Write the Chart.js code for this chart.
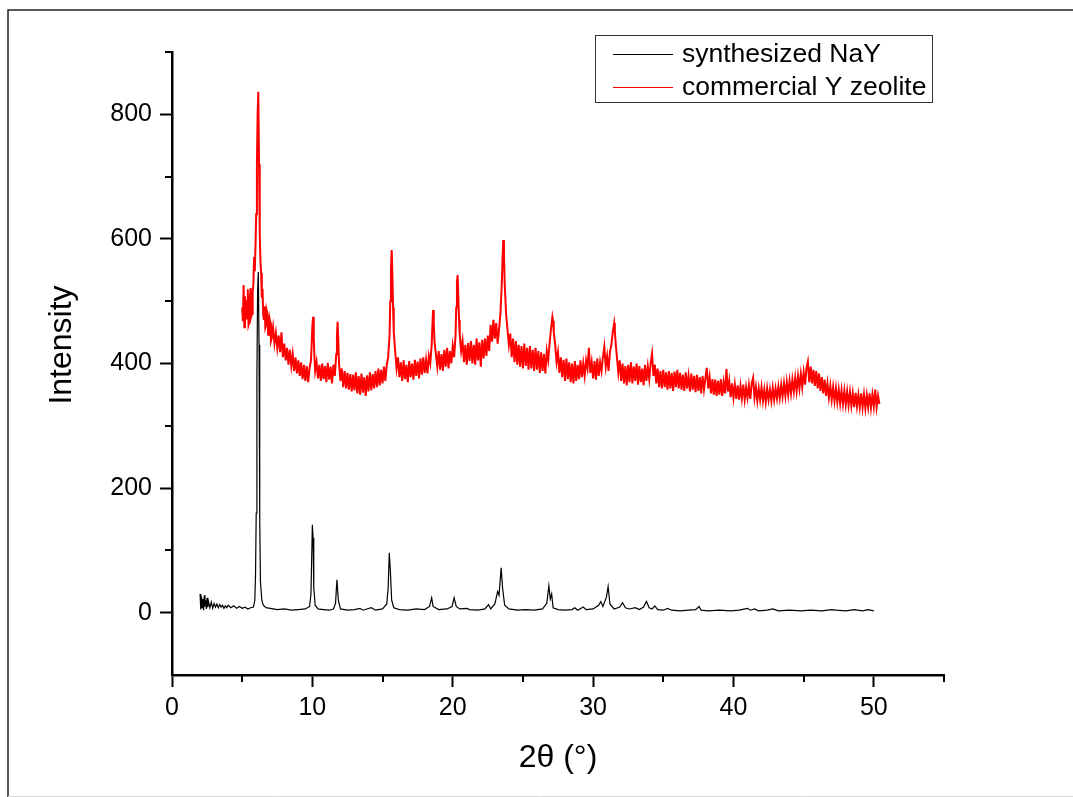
<!DOCTYPE html>
<html>
<head>
<meta charset="utf-8">
<script src="https://cdn.jsdelivr.net/npm/chart.js@4.4.1/dist/chart.umd.min.js"></script>
<style>
  html, body { margin: 0; padding: 0; background: #fff; }
  #wrap { width: 1073px; height: 797px; position: relative; }
</style>
</head>
<body>
<div id="wrap"><canvas id="xrd" width="1073" height="797"></canvas></div>
<script>
'use strict';

/* ── Data ────────────────────────────────────────────────── */
const seriesLabels = ['synthesized NaY', 'commercial Y zeolite'];
const seriesColors = ['#000000', '#ff0000'];

// [2θ, intensity]
const nayPattern = [
  [2.0,30],[2.05,5],[2.1,26],[2.15,8],[2.2,22],[2.25,4],[2.3,28],[2.35,10],[2.4,20],[2.45,6],
  [2.5,24],[2.55,9],[2.6,18],[2.7,8],[2.8,17],[2.9,7],[3.0,15],[3.1,9],[3.2,14],[3.3,8],
  [3.4,13],[3.5,9],[3.6,12],[3.7,7],[3.8,11],[3.9,8],[4.0,12],[4.2,8],[4.4,11],[4.6,7],
  [4.8,10],[5.0,7],[5.2,9],[5.4,6],[5.6,8],[5.8,9],[5.9,20],[5.95,60],[6.0,160],[6.05,380],
  [6.1,520],[6.15,547],[6.2,430],[6.25,150],[6.3,50],[6.4,20],[6.5,12],[6.7,8],[7.0,7],[7.5,5],
  [8.0,6],[8.5,4],[9.0,5],[9.5,6],[9.8,10],[9.9,30],[10.0,141],[10.05,120],[10.1,40],[10.2,12],
  [10.4,6],[10.8,5],[11.2,4],[11.5,6],[11.65,15],[11.75,53],[11.85,20],[12.0,6],[12.5,4],[13.0,5],
  [13.4,7],[13.6,4],[14.2,8],[14.5,4],[15.0,6],[15.3,14],[15.4,40],[15.48,96],[15.55,70],[15.65,20],
  [15.8,8],[16.2,5],[16.8,4],[17.4,6],[18.0,5],[18.35,10],[18.5,24],[18.6,10],[19.0,5],[19.6,6],
  [19.95,10],[20.1,24],[20.25,10],[20.5,6],[21.0,7],[21.2,5],[21.8,4],[22.3,6],[22.55,13],[22.7,6],
  [23.0,14],[23.2,34],[23.3,28],[23.45,72],[23.55,40],[23.7,12],[24.0,6],[24.6,4],[25.2,5],[25.8,4],
  [26.4,6],[26.7,15],[26.85,43],[26.95,22],[27.05,30],[27.15,8],[27.5,5],[28.0,4],[28.5,5],[28.7,8],
  [28.9,4],[29.3,9],[29.5,5],[30.0,6],[30.4,12],[30.55,18],[30.7,10],[30.95,25],[31.07,42],[31.2,14],
  [31.5,6],[31.9,9],[32.1,16],[32.3,8],[32.6,6],[33.0,8],[33.3,5],[33.6,9],[33.8,18],[34.0,8],
  [34.2,6],[34.4,11],[34.6,5],[35.0,4],[35.3,7],[35.6,4],[36.2,3],[36.8,4],[37.3,5],[37.55,10],
  [37.7,4],[38.2,3],[39.0,4],[39.8,3],[40.4,4],[41.0,7],[41.2,4],[41.5,6],[41.8,3],[42.4,4],
  [42.8,6],[43.2,3],[44.0,4],[44.8,3],[45.5,4],[46.3,3],[47.0,5],[47.3,4],[48.0,3],[48.6,5],
  [49.2,3],[49.6,5],[50.0,3]
];

const commercialPattern = [
  [5.0,490],[5.05,468],[5.1,526],[5.15,458],[5.2,508],[5.25,480],[5.3,471],[5.35,500],[5.4,519],[5.45,462],
  [5.5,466],[5.55,505],[5.6,521],[5.65,476],[5.7,480],[5.75,515],[5.8,528],[5.85,571],
  [5.9,548],[5.95,590],[6.0,640],[6.05,720],[6.1,800],[6.15,836],[6.2,720],[6.25,610],[6.3,565],[6.35,545],
  [6.4,505],[6.45,520],[6.5,478],[6.55,470],[6.6,492],[6.65,458],[6.7,462],[6.75,485],[6.8,480],[6.85,446],[6.9,450],[6.95,472],[7.0,466],[7.05,436],[7.1,440],[7.2,458],
  [7.3,432],[7.4,449],[7.5,425],[7.6,445],[7.7,418],[7.8,450],[7.9,410],[8.0,432],[8.1,405],[8.2,425],
  [8.3,398],[8.4,422],[8.5,396],[8.6,415],[8.7,388],[8.8,410],[8.9,384],[9.0,405],[9.1,380],[9.2,402],
  [9.3,375],[9.4,398],[9.5,372],[9.6,396],[9.7,370],[9.8,392],[9.9,405],[9.95,430],[10.0,460],[10.05,475],
  [10.1,440],[10.15,410],[10.2,388],[10.3,402],[10.4,376],[10.5,398],[10.6,372],[10.7,400],[10.8,375],[10.9,396],
  [11.0,370],[11.1,401],[11.2,374],[11.3,395],[11.4,368],[11.5,398],[11.6,380],[11.7,415],[11.75,445],[11.8,467],
  [11.85,435],[11.9,400],[12.0,372],[12.1,392],[12.2,362],[12.3,388],[12.4,360],[12.5,385],[12.6,358],[12.7,383],
  [12.8,355],[12.9,382],[13.0,357],[13.1,386],[13.2,352],[13.3,380],[13.4,350],[13.5,384],[13.6,353],[13.7,378],
  [13.8,348],[13.9,381],[14.0,355],[14.1,386],[14.2,357],[14.3,383],[14.4,360],[14.5,388],[14.6,362],[14.7,392],
  [14.8,365],[14.9,390],[15.0,368],[15.1,395],[15.2,372],[15.3,398],[15.4,410],[15.5,445],[15.55,500],[15.6,550],
  [15.65,582],[15.7,545],[15.75,490],[15.8,450],[15.9,420],[16.0,392],[16.1,410],[16.2,378],[16.3,402],[16.4,372],
  [16.5,405],[16.6,375],[16.7,398],[16.8,370],[16.9,404],[17.0,378],[17.1,400],[17.2,374],[17.3,406],[17.4,380],
  [17.5,403],[17.6,376],[17.7,408],[17.8,382],[17.9,410],[18.0,385],[18.1,406],[18.2,384],[18.3,412],[18.4,400],
  [18.5,430],[18.55,460],[18.6,486],[18.65,465],[18.7,435],[18.8,415],[18.9,395],[19.0,420],[19.1,390],[19.2,415],
  [19.3,388],[19.4,422],[19.5,395],[19.6,425],[19.7,392],[19.8,420],[19.9,400],[20.0,428],[20.1,410],[20.2,445],
  [20.25,490],[20.3,530],[20.35,542],[20.4,505],[20.45,470],[20.5,445],[20.6,420],[20.7,436],[20.8,402],[20.9,430],
  [21.0,398],[21.1,433],[21.2,404],[21.3,436],[21.4,400],[21.5,430],[21.6,398],[21.7,440],[21.8,405],[21.9,434],
  [22.0,395],[22.1,438],[22.2,408],[22.3,440],[22.4,412],[22.5,445],[22.6,420],[22.7,462],[22.8,435],[22.9,470],
  [23.0,440],[23.1,465],[23.2,432],[23.3,455],[23.4,480],[23.5,530],[23.55,570],[23.6,598],[23.65,575],[23.7,530],
  [23.8,480],[23.9,455],[24.0,430],[24.1,448],[24.2,410],[24.3,440],[24.4,402],[24.5,436],[24.6,398],[24.7,430],
  [24.8,395],[24.9,428],[25.0,392],[25.1,432],[25.2,396],[25.3,425],[25.4,390],[25.5,428],[25.6,392],[25.7,422],
  [25.8,388],[25.9,425],[26.0,390],[26.1,420],[26.2,385],[26.3,418],[26.4,388],[26.5,415],[26.6,384],[26.7,420],
  [26.8,405],[26.9,432],[27.0,455],[27.1,475],[27.15,468],[27.2,450],[27.3,430],[27.4,402],[27.5,418],[27.6,385],
  [27.7,410],[27.8,378],[27.9,406],[28.0,372],[28.1,408],[28.2,375],[28.3,402],[28.4,370],[28.5,400],[28.6,368],
  [28.7,404],[28.8,372],[28.9,398],[29.0,375],[29.1,405],[29.2,378],[29.3,400],[29.4,380],[29.5,405],[29.6,392],
  [29.7,425],[29.8,385],[29.9,402],[30.0,376],[30.1,404],[30.2,374],[30.3,408],[30.4,380],[30.5,402],[30.6,388],
  [30.7,410],[30.8,427],[30.9,395],[31.0,412],[31.1,388],[31.2,418],[31.3,430],[31.4,450],[31.5,465],[31.55,452],
  [31.6,435],[31.7,410],[31.8,385],[31.9,405],[32.0,372],[32.1,400],[32.2,368],[32.3,396],[32.4,365],[32.5,398],
  [32.6,370],[32.7,402],[32.8,368],[32.9,395],[33.0,372],[33.1,400],[33.2,366],[33.3,396],[33.4,370],[33.5,392],
  [33.6,365],[33.7,398],[33.8,372],[33.9,395],[34.0,375],[34.1,400],[34.2,416],[34.3,380],[34.4,398],[34.5,368],
  [34.6,392],[34.7,362],[34.8,388],[34.9,360],[35.0,390],[35.1,362],[35.2,386],[35.3,358],[35.4,388],[35.5,360],
  [35.6,385],[35.7,356],[35.8,387],[35.9,362],[36.0,390],[36.1,360],[36.2,385],[36.3,358],[36.4,382],[36.5,356],
  [36.6,386],[36.7,360],[36.8,380],[36.9,355],[37.0,384],[37.1,358],[37.2,380],[37.3,354],[37.4,382],[37.5,356],
  [37.6,378],[37.7,352],[37.8,380],[37.9,358],[38.0,376],[38.1,393],[38.2,360],[38.3,378],[38.4,352],[38.5,375],
  [38.6,350],[38.7,374],[38.8,348],[38.9,372],[39.0,350],[39.1,375],[39.2,348],[39.3,370],[39.4,352],[39.5,391],
  [39.6,355],[39.7,372],[39.8,346],[39.9,368],[40.0,345],[40.1,366],[40.2,343],[40.3,365],[40.4,342],[40.5,364],
  [40.6,344],[40.7,366],[40.8,342],[40.9,362],[41.0,345],[41.1,365],[41.2,343],[41.3,368],[41.4,377],[41.5,345],
  [41.6,362],[41.7,340],[41.8,360],[41.9,342],[42.0,362],[42.1,340],[42.2,358],[42.3,338],[42.4,360],[42.5,342],
  [42.6,358],[42.7,340],[42.8,361],[42.9,342],[43.0,360],[43.1,344],[43.2,363],[43.3,345],[43.4,366],[43.5,347],
  [43.6,368],[43.7,348],[43.8,370],[43.9,350],[44.0,372],[44.1,352],[44.2,374],[44.3,355],[44.4,377],[44.5,356],
  [44.6,380],[44.7,360],[44.8,383],[44.9,362],[45.0,386],[45.1,366],[45.2,392],[45.3,403],[45.4,370],[45.5,395],
  [45.6,368],[45.7,390],[45.8,364],[45.9,388],[46.0,360],[46.1,384],[46.2,356],[46.3,378],[46.4,352],[46.5,374],
  [46.6,348],[46.7,368],[46.8,345],[46.9,364],[47.0,342],[47.1,362],[47.2,340],[47.3,360],[47.4,338],[47.5,358],
  [47.6,336],[47.7,357],[47.8,335],[47.9,356],[48.0,334],[48.1,355],[48.2,333],[48.3,354],[48.4,332],[48.5,352],
  [48.6,330],[48.7,353],[48.8,331],[48.9,350],[49.0,330],[49.1,352],[49.2,329],[49.3,350],[49.4,328],[49.5,349],
  [49.6,330],[49.7,352],[49.8,329],[49.9,350],[50.0,331],[50.1,358],[50.2,330],[50.3,348],[50.4,335]
];

const xRange = [0, 55];
const yRange = [-100, 900];
const xLabelled = [0, 10, 20, 30, 40, 50];
const yLabelled = [0, 200, 400, 600, 800];

const FONT = '"Liberation Sans", Arial, Helvetica, sans-serif';
const toXY = arr => arr.map(p => ({ x: p[0], y: p[1] }));

/* ── Plugins: minor ticks, axis titles, legend box, frame ── */
const extras = {
  id: 'extras',
  afterDraw(chart) {
    const { ctx, chartArea: ca, scales } = chart;
    ctx.save();
    ctx.strokeStyle = '#000';
    ctx.lineWidth = 2;

    // minor ticks (unlabelled tick values)
    scales.x.ticks.forEach(t => {
      if (xLabelled.includes(t.value)) return;
      const px = Math.round(scales.x.getPixelForValue(t.value));
      ctx.beginPath();
      ctx.moveTo(px, ca.bottom);
      ctx.lineTo(px, ca.bottom + 7);
      ctx.stroke();
    });
    scales.y.ticks.forEach(t => {
      if (yLabelled.includes(t.value) || t.value === yRange[0]) return;
      const py = Math.round(scales.y.getPixelForValue(t.value));
      ctx.beginPath();
      ctx.moveTo(ca.left, py);
      ctx.lineTo(ca.left - 7, py);
      ctx.stroke();
    });

    // axis titles
    ctx.fillStyle = '#000';
    ctx.font = `32px ${FONT}`;
    ctx.textAlign = 'center';
    ctx.textBaseline = 'middle';
    ctx.fillText('2θ (°)', (ca.left + ca.right) / 2, 758);
    ctx.save();
    ctx.translate(62, 345);
    ctx.rotate(-Math.PI / 2);
    ctx.fillText('Intensity', 0, 0);
    ctx.restore();

    // legend
    ctx.lineWidth = 1;
    ctx.strokeStyle = '#333';
    ctx.strokeRect(595.5, 35.5, 337, 67);
    ctx.font = `26.5px ${FONT}`;
    ctx.textAlign = 'left';
    [54, 87].forEach((y, i) => {
      ctx.strokeStyle = seriesColors[i];
      ctx.beginPath();
      ctx.moveTo(613, y + 0.5);
      ctx.lineTo(673, y + 0.5);
      ctx.stroke();
      ctx.fillText(seriesLabels[i], 682, y + 1);
    });

    // outer frame
    ctx.strokeStyle = '#222';
    ctx.lineWidth = 1.5;
    ctx.beginPath();
    ctx.moveTo(8, 797);
    ctx.lineTo(8, 10);
    ctx.lineTo(1073, 10);
    ctx.stroke();
    ctx.strokeStyle = '#d8d8d8';
    ctx.lineWidth = 1;
    ctx.beginPath();
    ctx.moveTo(8, 796.5);
    ctx.lineTo(1073, 796.5);
    ctx.stroke();
    ctx.restore();
  }
};

new Chart(document.getElementById('xrd'), {
  type: 'line',
  data: {
    datasets: [
      { label: seriesLabels[0], data: toXY(nayPattern), borderColor: seriesColors[0], borderWidth: 1.2, pointRadius: 0, order: 0 },
      { label: seriesLabels[1], data: toXY(commercialPattern), borderColor: seriesColors[1], borderWidth: 2, pointRadius: 0, order: 1 }
    ]
  },
  options: {
    responsive: false,
    animation: false,
    layout: { padding: { top: 52, right: 129, left: 0, bottom: 0 } },
    plugins: { legend: { display: false }, tooltip: { enabled: false } },
    scales: {
      x: {
        type: 'linear',
        min: xRange[0],
        max: xRange[1],
        afterFit: s => { s.height = 122; },
        ticks: {
          stepSize: 5,
          autoSkip: false,
          maxRotation: 0,
          padding: 6,
          color: '#000',
          font: { family: FONT, size: 25 },
          callback: v => (xLabelled.includes(v) ? v : '')
        },
        grid: {
          drawOnChartArea: false,
          tickLength: 12,
          tickWidth: 2,
          tickColor: c => (xLabelled.includes(c.tick.value) ? '#000' : 'rgba(0,0,0,0)')
        },
        border: { color: '#000', width: 2.5 }
      },
      y: {
        min: yRange[0],
        max: yRange[1],
        afterFit: s => { s.width = 172; },
        ticks: {
          stepSize: 100,
          autoSkip: false,
          padding: 8,
          color: '#000',
          font: { family: FONT, size: 25 },
          callback: v => (yLabelled.includes(v) ? v : '')
        },
        grid: {
          drawOnChartArea: false,
          tickLength: 12,
          tickWidth: 2,
          tickColor: c => (yLabelled.includes(c.tick.value) ? '#000' : 'rgba(0,0,0,0)')
        },
        border: { color: '#000', width: 2.5 }
      }
    }
  },
  plugins: [extras]
});
</script>
</body>
</html>
